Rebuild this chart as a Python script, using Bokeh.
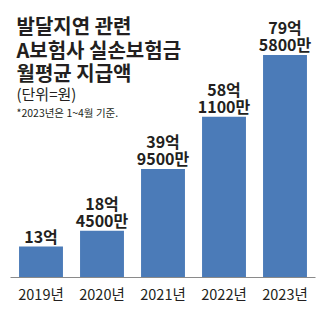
from bokeh.plotting import figure
from bokeh.models import Range1d, FixedTicker, ColumnDataSource
from bokeh.core.properties import value
from bokeh.embed import file_html
from bokeh.resources import INLINE

years = ["2019년", "2020년", "2021년", "2022년", "2023년"]
amounts = [13.0, 18.45, 39.95, 58.11, 79.58]  # 억원
label_upper = ["", "18억", "39억", "58억", "79억"]
label_lower = ["13억", "4500만", "9500만", "1100만", "5800만"]
title_lines = ["발달지연 관련", "A보험사 실손보험금", "월평균 지급액"]
unit_text = "(단위=원)"
note_text = "*2023년은 1~4월 기준."

FONT = value("Noto Sans CJK KR")
INK = "#231f20"
BAR = "#4b7bb8"

W, H = 325, 332
LEFT, RIGHT, BOTTOM = 10, 10, 55
FRAME_H = H - BOTTOM
Y0 = 2.22
PX_PER_UNIT = 2.875
Y1 = Y0 + FRAME_H / PX_PER_UNIT
UNIT_W = (W - LEFT - RIGHT) / len(years)


def X(px):
    return (px - LEFT) / UNIT_W - 0.5


def Y(py):
    return Y0 + (FRAME_H - py) / PX_PER_UNIT


p = figure(width=W, height=H, output_backend="svg", toolbar_location=None,
           x_range=Range1d(-0.5, len(years) - 0.5), y_range=Range1d(Y0, Y1),
           y_axis_location=None, min_border_left=LEFT, min_border_right=RIGHT,
           min_border_top=0, min_border_bottom=BOTTOM)
p.background_fill_color = "white"
p.border_fill_color = "white"
p.outline_line_color = None
p.xgrid.visible = False
p.ygrid.visible = False

idx = list(range(len(years)))
src = ColumnDataSource(dict(x=idx, top=amounts, up=label_upper, low=label_lower))

p.vbar(x="x", top="top", bottom=Y0, width=0.72, source=src,
       fill_color=BAR, line_color=None)

p.text(x="x", y="top", text="low", source=src, y_offset=-11,
       text_align="center", text_baseline="middle", text_font=FONT,
       text_font_style="bold", text_font_size="16px", text_color=INK)
p.text(x="x", y="top", text="up", source=src, y_offset=-28,
       text_align="center", text_baseline="middle", text_font=FONT,
       text_font_style="bold", text_font_size="16px", text_color=INK)

# title block
title_y = [24.7, 48.5, 71.5]
p.text(x=[X(16)] * 3, y=[Y(v) for v in title_y], text=title_lines,
       text_align="left", text_baseline="middle", text_font=FONT,
       text_font_style="bold", text_font_size="20px", text_color=INK)
p.text(x=[X(16)], y=[Y(92.5)], text=[unit_text],
       text_align="left", text_baseline="middle", text_font=FONT,
       text_font_size="15px", text_color=INK)
p.text(x=[X(16)], y=[Y(112)], text=[note_text],
       text_align="left", text_baseline="middle", text_font=FONT,
       text_font_size="10.5px", text_color=INK)

ax = p.xaxis[0]
ax.ticker = FixedTicker(ticks=idx)
ax.major_label_overrides = {i: y for i, y in zip(idx, years)}
ax.major_tick_line_color = None
ax.minor_tick_line_color = None
ax.major_tick_out = 0
ax.major_tick_in = 0
ax.axis_line_color = "#8a8a8a"
ax.axis_line_width = 1
ax.major_label_standoff = 5
ax.major_label_text_font = "Noto Sans CJK KR"
ax.major_label_text_font_size = "14.5px"
ax.major_label_text_color = INK

open("out.html", "w").write(file_html(p, INLINE))
